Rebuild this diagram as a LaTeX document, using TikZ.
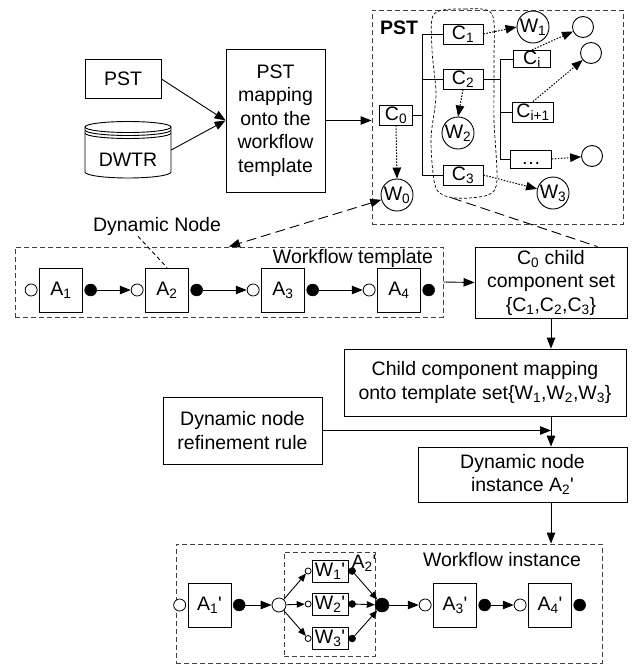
\documentclass[tikz,border=0pt]{standalone}
\usepackage{fontspec}
\setmainfont{Liberation Sans}
\usetikzlibrary{arrows.meta,positioning}
\newcommand{\prm}{\textquotesingle}

\begin{document}
\begin{tikzpicture}[
  x=1pt, y=-1pt,
  >={Triangle[length=11pt,width=8.5pt]},
  every node/.style={font=\fontsize{19.5}{23.5}\selectfont, inner sep=1pt},
  thinline/.style={line width=0.9pt},
  box/.style={draw, line width=0.9pt, align=center},
  cbox/.style={draw, line width=0.9pt, minimum height=20pt, text height=13.5pt, text depth=3pt, inner sep=0.5pt},
  wcirc/.style={draw, circle, line width=0.9pt, minimum size=32pt, inner sep=0pt},
  endcirc/.style={draw, circle, line width=0.9pt, minimum size=21pt, inner sep=0pt},
  abox/.style={draw, line width=0.9pt, minimum width=43pt, minimum height=44pt},
  wbox/.style={draw, line width=0.9pt, minimum width=36pt, minimum height=22pt, inner sep=0.5pt},
  portin/.style={draw, circle, fill=white, line width=0.8pt, minimum size=12pt, inner sep=0pt},
  portout/.style={draw, circle, fill=black, minimum size=12pt, inner sep=0pt},
  dashframe/.style={draw=black!75, line width=0.9pt, dash pattern=on 5pt off 3pt},
  flow/.style={->, line width=0.9pt},
  sflow/.style={-{Triangle[length=8pt,width=6.5pt]}, line width=0.9pt},
  mapto/.style={->, line width=1pt, dash pattern=on 1.5pt off 1.5pt},
  link/.style={line width=0.9pt, dash pattern=on 10pt off 5pt}
]
\useasboundingbox (0,0) rectangle (633,664);

\node[box, minimum width=76pt, minimum height=39pt] (pst) at (123,79) {PST};
\node[minimum width=86pt, minimum height=56pt] (dwtr) at (128,150) {};
\draw[thinline, fill=white] (85,127) -- (85,172) arc[start angle=180, end angle=360, x radius=43pt, y radius=6pt] -- (171,127);
\draw[thinline] (128,127) ellipse [x radius=43pt, y radius=5.5pt];
\draw[thinline] (85,130) arc[start angle=180, end angle=360, x radius=43pt, y radius=5.5pt];
\draw[thinline] (85,133) arc[start angle=180, end angle=360, x radius=43pt, y radius=5.5pt];
\node (dwtrlbl) at (128,160) {DWTR};
\node[box, minimum width=99pt, minimum height=143pt] (pstmap) at (275.5,120.5) {PST\\mapping\\onto the\\workflow\\template};
\draw[flow] (pst.east) -- (pstmap.west);
\draw[flow] (dwtr.east) -- (pstmap.west);

\node[dashframe, minimum width=251pt, minimum height=214pt] (pstframe) at (497.5,117) {};
\draw[flow] (pstmap.east) -- (pstmap.east -| pstframe.west);
\node[font=\fontsize{19.5}{23.5}\selectfont\bfseries] (pstlbl) at (399,28) {PST};

\node[cbox, minimum width=33pt] (c0) at (396,115) {C\textsubscript{0}};
\node[cbox, minimum width=40pt] (c1) at (463,34) {C\textsubscript{1}};
\node[cbox, minimum width=40pt] (c2) at (463,79) {C\textsubscript{2}};
\node[cbox, minimum width=40pt] (c3) at (463,175) {C\textsubscript{3}};
\node[cbox, minimum width=37pt, minimum height=17pt] (ci) at (532,59) {C\textsubscript{i}};
\node[cbox, minimum width=41pt] (ci1) at (533,112) {C\textsubscript{i+1}};
\node[cbox, minimum width=41pt, minimum height=18pt] (cdots) at (531,159) {\dots};
\draw[thinline] (c0.east) -- ++(9,0) coordinate (t0);
\draw[thinline] (t0 |- c1.west) -- (t0 |- c3.west);
\foreach \c in {c1,c2,c3} \draw[thinline] (t0 |- \c.west) -- (\c.west);
\draw[thinline] (c2.east) -- ++(17,0) coordinate (t2);
\draw[thinline] (t2 |- ci.west) -- (t2 |- cdots.west);
\foreach \c in {ci,ci1,cdots} \draw[thinline] (t2 |- \c.west) -- (\c.west);

\node[wcirc] (w0) at (397,195) {W\textsubscript{0}};
\node[wcirc] (w1) at (533,27) {W\textsubscript{1}};
\node[wcirc] (w2) at (458,133) {W\textsubscript{2}};
\node[wcirc] (w3) at (553,193) {W\textsubscript{3}};
\node[endcirc] (e1) at (583,27) {};
\node[endcirc] (e2) at (591,53) {};
\node[endcirc] (e3) at (592,156) {};
\draw[mapto] (c0.south) -- (w0.north);
\draw[mapto] (c1.east) -- (w1.west);
\draw[mapto] (c2.south) -- (w2.north);
\draw[mapto] (c3.east) -- (w3);
\draw[mapto] (ci.north) -- (e1);
\draw[mapto] (ci1.north) -- (e2);
\draw[mapto] (cdots.east) -- (e3);
\draw[line width=0.7pt, dash pattern=on 3pt off 2pt] plot[smooth cycle] coordinates {(434,14) (465,9) (492,14) (494,60) (494,120) (497,180) (488,195) (455,198) (436,188) (431,140) (436,95) (432,50)};
\coordinate (setbot) at (452,198);

\node[dashframe, minimum width=428pt, minimum height=70pt] (tmpl) at (229,282) {};
\node (tmpllbl) at (353,258) {Workflow template};
\node (dynlbl) at (157,226) {Dynamic Node};
\foreach \i/\x in {1/61,2/167,3/283,4/399}{
  \node[abox] (a\i) at (\x,290) {A\textsubscript{\i}};
  \node[portin, left=1.5pt of a\i] (a\i-in) {};
  \node[portout, right=1.5pt of a\i] (a\i-out) {};
}
\foreach \i/\j in {1/2,2/3,3/4} \draw[flow] (a\i-out) -- (a\j-in);
\draw[thinline, dash pattern=on 4pt off 3pt] ([xshift=-19pt]dynlbl.south) -- (a2.north);
\draw[link, <->] (w0) -- (tmpl.north);

\node[box, minimum width=152pt, minimum height=71pt] (cset) at (551,282.5) {C\textsubscript{0} child\\component set\\\{C\textsubscript{1},C\textsubscript{2},C\textsubscript{3}\}};
\node[box, minimum width=282pt, minimum height=67pt] (cmap) at (485,382.5) {Child component mapping\\onto template set\{W\textsubscript{1},W\textsubscript{2},W\textsubscript{3}\}};
\node[box, minimum width=159pt, minimum height=67pt] (rule) at (242.5,430.5) {Dynamic node\\refinement rule};
\node[box, minimum width=209pt, minimum height=55pt] (inst) at (522.5,474.5) {Dynamic node\\instance A\textsubscript{2}\prm};
\draw[link] (setbot) -- ([xshift=-30pt]cset.north east);
\draw[flow] (tmpl.east) -- (cset.west);
\draw[flow] (cset.south) -- (cset.south |- cmap.north);
\draw[flow] (cset.south |- cmap.south) -- (cset.south |- inst.north);
\draw[flow] (rule.east) -- (rule.east -| cset.south);

\node[dashframe, minimum width=426pt, minimum height=119pt] (wfi) at (389,603.5) {};
\draw[flow] (cset.south |- inst.south) -- (cset.south |- wfi.north);
\node (wfilbl) at (502,560) {Workflow instance};
\node[dashframe, minimum width=91pt, minimum height=104pt] (a2frame) at (329.5,604) {};
\node (a2lbl) at (364,563) {A\textsubscript{2}\prm};
\node[portin, minimum size=14pt] (split) at (279,605) {};
\node[portout, minimum size=14pt] (merge) at (382,605) {};
\foreach \i/\y in {1/571,2/604,3/638.5}{
  \node[wbox] (v\i) at (330,\y) {W\textsubscript{\i}\prm};
  \node[portin, minimum size=6pt, left=0pt of v\i] (v\i-in) {};
  \node[portout, minimum size=7pt, right=0pt of v\i] (v\i-out) {};
  \draw[sflow] (split) -- (v\i-in);
  \draw[sflow] (v\i-out) -- (merge);
}
\foreach \i/\x in {1/209.5,3/455,4/550}{
  \node[abox] (b\i) at (\x,605) {A\textsubscript{\i}\prm};
  \node[portin, left=1.5pt of b\i] (b\i-in) {};
  \node[portout, right=1.5pt of b\i] (b\i-out) {};
}
\draw[flow] (b1-out) -- (split);
\draw[flow] (merge) -- (b3-in);
\draw[flow] (b3-out) -- (b4-in);
\end{tikzpicture}
\end{document}
